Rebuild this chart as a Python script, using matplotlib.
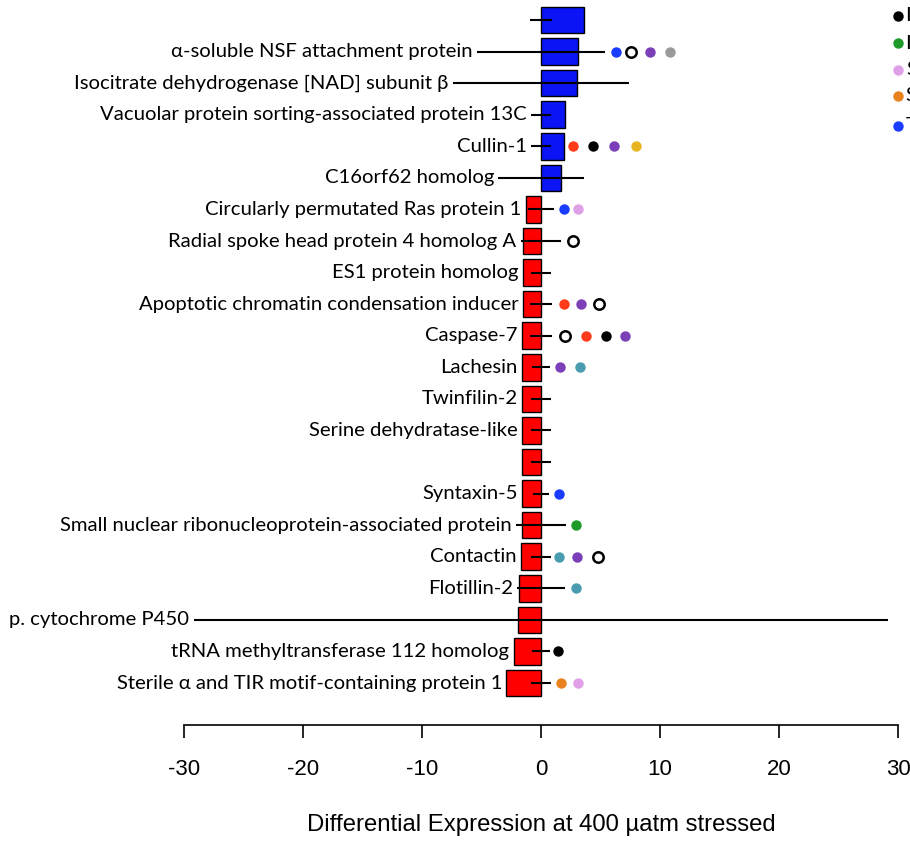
import numpy as np
import matplotlib.pyplot as plt

plt.rcParams["axes.unicode_minus"] = False

# proteins, top to bottom ('' = unlabeled row)
labels = ["", "α-soluble NSF attachment protein", "Isocitrate dehydrogenase [NAD] subunit β",
          "Vacuolar protein sorting-associated protein 13C", "Cullin-1", "C16orf62 homolog",
          "Circularly permutated Ras protein 1", "Radial spoke head protein 4 homolog A",
          "ES1 protein homolog", "Apoptotic chromatin condensation inducer", "Caspase-7",
          "Lachesin", "Twinfilin-2", "Serine dehydratase-like", "", "Syntaxin-5",
          "Small nuclear ribonucleoprotein-associated protein", "Contactin", "Flotillin-2",
          "p. cytochrome P450", "tRNA methyltransferase 112 homolog",
          "Sterile α and TIR motif-containing protein 1"]
values = [3.6, 3.1, 3.0, 2.0, 1.9, 1.7, -1.3, -1.5, -1.5, -1.5, -1.6, -1.6, -1.6, -1.6,
          -1.6, -1.6, -1.6, -1.7, -1.85, -1.9, -2.3, -2.9]
errors = [0.9, 5.4, 7.4, 0.85, 0.85, 3.6, 1.1, 1.7, 0.85, 0.9, 0.9, 0.75, 0.8, 0.8,
          0.8, 0.7, 2.1, 0.85, 2.0, 29.2, 0.75, 0.8]

# annotation dots next to the bars
dot_rows = [1, 1, 1, 1, 4, 4, 4, 4, 6, 6, 7, 9, 9, 9, 10, 10, 10, 10, 11, 11,
            15, 16, 17, 17, 17, 18, 20, 21, 21]
dot_x = [6.3, 7.6, 9.2, 10.8, 2.7, 4.4, 6.1, 8.0, 1.9, 3.1, 2.7, 1.9, 3.4, 4.9,
         2.0, 3.8, 5.5, 7.1, 1.6, 3.3, 1.5, 2.9, 1.5, 3.0, 4.8, 2.9, 1.4, 1.7, 3.1]
dot_colors = ["blue", "open", "purple", "gray", "red", "black", "purple", "gold",
              "blue", "pink", "open", "red", "purple", "open", "open", "red", "black",
              "purple", "purple", "teal", "blue", "green", "teal", "purple", "open",
              "teal", "black", "orange", "pink"]

legend_colors = ["black", "green", "pink", "orange", "blue"]
legend_labels = ["Immune response", "Ion transport", "Signaling", "Stress response", "Transport"]

palette = {"blue": "#1a3cff", "red": "#ff3b1a", "black": "#000000", "purple": "#7b3fb8",
           "gold": "#e8b520", "gray": "#9a9a9a", "pink": "#e0a0e8", "teal": "#4a9cb0",
           "green": "#1e9a2a", "orange": "#e8821e"}

label_font = "Lato"
W, H = 910, 841
fig = plt.figure(figsize=(W / 100, H / 100), dpi=100)
ax = fig.add_axes([184 / W, (H - 725) / H, 714 / W, 725 / H])

y = np.arange(len(labels))
colors = ["#0a14f5" if v > 0 else "#ff0000" for v in values]
ax.barh(y, values, height=0.84, color=colors, edgecolor="black", linewidth=1.0, zorder=2)
ax.hlines(y, -np.array(errors), np.array(errors), color="black", linewidth=1.5, zorder=3,
          clip_on=False)

for i, lab in enumerate(labels):
    if not lab:
        continue
    left = min(values[i], -errors[i])
    ax.annotate(lab, (left, i), xytext=(-3, 0), textcoords="offset points",
                ha="right", va="center", fontsize=14.6, family=label_font,
                annotation_clip=False)

for r, xv, c in zip(dot_rows, dot_x, dot_colors):
    if c == "open":
        ax.plot(xv, r, "o", ms=7.5, mfc="white", mec="black", mew=1.8, zorder=4, clip_on=False)
    else:
        ax.plot(xv, r, "o", ms=7.5, color=palette[c], mew=0, zorder=4, clip_on=False)

ax.set_xlim(-30, 30)
ax.set_ylim(22.33, -0.634)
ax.set_xticks(np.arange(-30, 31, 10))
ax.set_yticks([])
for s in ["top", "right", "left"]:
    ax.spines[s].set_visible(False)
ax.spines["bottom"].set_linewidth(1.2)
ax.tick_params(axis="x", length=9.5, width=1.2, pad=15, labelsize=16)
for t in ax.get_xticklabels():
    t.set_family("Liberation Sans")

# legend (cut off at the right edge, as in the source figure)
leg_y = [16, 43, 70, 96, 126]
for c, lab, yy in zip(legend_colors, legend_labels, leg_y):
    fig.add_artist(plt.Line2D([898 / W], [1 - yy / H], marker="o", ms=7.5, mew=0,
                              color=palette[c], transform=fig.transFigure))
    fig.text(906 / W, 1 - yy / H, lab, fontsize=14.6, family=label_font, va="center")

fig.text(541 / W, 1 - 825 / H, "Differential Expression at 400 µatm stressed",
         ha="center", va="center", fontsize=17.2, family="Liberation Sans")

fig.savefig("out.png", dpi=100)
